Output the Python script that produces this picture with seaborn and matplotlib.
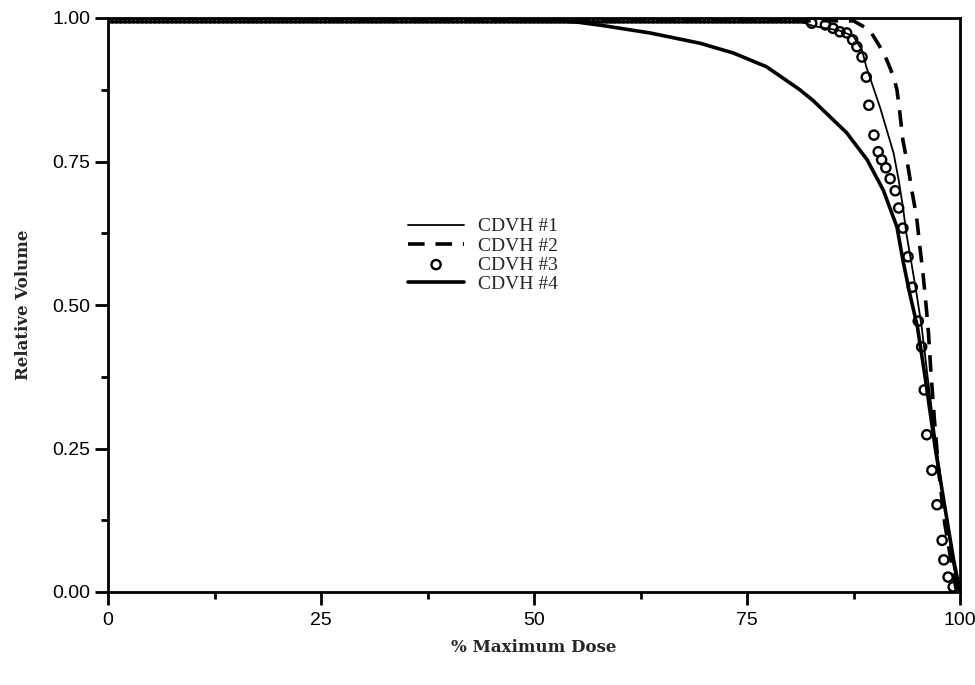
import matplotlib
matplotlib.use("Agg")
import matplotlib.pyplot as plt
import seaborn as sns
import pandas as pd
from matplotlib.ticker import MultipleLocator

# ---------------- data ----------------
x1 = [0, 80, 82.8, 85.9, 87.5, 88.5, 89.0, 89.8, 90.6, 91.4, 92.2, 92.8, 93.3, 93.7,
      94.3, 94.9, 95.5, 96.2, 97.0, 97.8, 98.6, 99.3, 100]
y1 = [1.0, 1.0, 0.986, 0.978, 0.968, 0.944, 0.915, 0.88, 0.845, 0.805, 0.765, 0.718,
      0.671, 0.625, 0.573, 0.52, 0.462, 0.375, 0.28, 0.19, 0.11, 0.04, 0.0]

x2 = [0, 87.5, 89.4, 90.6, 91.4, 92.2, 92.6, 92.9, 93.3, 93.9, 94.4, 94.9, 95.3, 95.7,
      96.1, 96.3, 96.6, 97.0, 97.5, 98.2, 99.0, 99.6]
y2 = [1.0, 0.995, 0.979, 0.95, 0.927, 0.898, 0.875, 0.84, 0.787, 0.741, 0.695, 0.654,
      0.60, 0.549, 0.486, 0.451, 0.38, 0.30, 0.21, 0.12, 0.05, 0.0]

# CDVH #3: dense plateau of points at 1.0, then the fall-off
x3_plateau = [0, 0.5, 1, 1.5, 2, 2.5, 3, 3.5, 4, 4.5, 5, 5.5, 6, 6.5, 7, 7.5, 8, 8.5,
              9, 9.5, 10, 10.5, 11, 11.5, 12, 12.5, 13, 13.5, 14, 14.5, 15, 15.5, 16,
              16.5, 17, 17.5, 18, 18.5, 19, 19.5, 20, 20.5, 21, 21.5, 22, 22.5, 23,
              23.5, 24, 24.5, 25, 25.5, 26, 26.5, 27, 27.5, 28, 28.5, 29, 29.5, 30,
              30.5, 31, 31.5, 32, 32.5, 33, 33.5, 34, 34.5, 35, 35.5, 36, 36.5, 37,
              37.5, 38, 38.5, 39, 39.5, 40, 40.5, 41, 41.5, 42, 42.5, 43, 43.5, 44,
              44.5, 45, 45.5, 46, 46.5, 47, 47.5, 48, 48.5, 49, 49.5, 50, 50.5, 51,
              51.5, 52, 52.5, 53, 53.5, 54, 54.5, 55, 55.5, 56, 56.5, 57, 57.5, 58,
              58.5, 59, 59.5, 60, 60.5, 61, 61.5, 62, 62.5, 63, 63.5, 64, 64.5, 65,
              65.5, 66, 66.5, 67, 67.5, 68, 68.5, 69, 69.5, 70, 70.5, 71, 71.5, 72,
              72.5, 73, 73.5, 74, 74.5, 75, 75.5, 76, 76.5, 77, 77.5, 78, 78.5, 79,
              79.5, 80, 80.5, 81, 81.5]
y3_plateau = [1.0 for _ in x3_plateau]
x3_fall = [82.6, 84.2, 85.1, 85.9, 86.7, 87.4, 87.9, 88.5, 89.0, 89.3, 89.9, 90.4,
           90.8, 91.3, 91.8, 92.4, 92.8, 93.3, 93.9, 94.4, 95.1, 95.5, 95.8, 96.1,
           96.7, 97.3, 97.9, 98.1, 98.6, 99.2]
y3_fall = [0.991, 0.988, 0.982, 0.976, 0.974, 0.962, 0.95, 0.932, 0.897, 0.848,
           0.796, 0.767, 0.753, 0.739, 0.72, 0.699, 0.669, 0.634, 0.584, 0.531,
           0.472, 0.427, 0.352, 0.274, 0.212, 0.152, 0.09, 0.056, 0.026, 0.009]
x3 = x3_plateau + x3_fall
y3 = y3_plateau + y3_fall

x4 = [0, 45, 50, 55, 58, 63.6, 69.5, 73.4, 77.3, 81.2, 82.7, 86.7, 89.1, 91.0, 92.6,
      93.3, 94.1, 95.0, 95.9, 97.1, 98.2, 99.2, 100]
y4 = [1.0, 1.0, 0.998, 0.993, 0.987, 0.974, 0.956, 0.939, 0.915, 0.875, 0.857, 0.80,
      0.753, 0.70, 0.636, 0.578, 0.52, 0.462, 0.375, 0.25, 0.15, 0.06, 0.0]

labels = ["CDVH #1", "CDVH #2", "CDVH #3", "CDVH #4"]
xticks = [0, 25, 50, 75, 100]
yticks = [0.00, 0.25, 0.50, 0.75, 1.00]

# ---------------- plot ----------------
sns.set_theme(style="ticks")
plt.rcParams["font.family"] = ["Liberation Sans", "DejaVu Sans"]

fig = plt.figure(figsize=(9.75, 6.85), dpi=100)
ax = fig.add_axes([108 / 975, 93 / 685, 852 / 975, 574 / 685])

df1 = pd.DataFrame({"x": x1, "y": y1})
df2 = pd.DataFrame({"x": x2, "y": y2})
df3 = pd.DataFrame({"x": x3, "y": y3})
df4 = pd.DataFrame({"x": x4, "y": y4})

sns.lineplot(data=df1, x="x", y="y", ax=ax, color="black", lw=1.3, sort=False,
             estimator=None, label=labels[0])
sns.lineplot(data=df2, x="x", y="y", ax=ax, color="black", lw=2.6, sort=False,
             estimator=None, label=labels[1], dashes=False)
ax.lines[-1].set_dashes([4.6, 3.0])
sns.lineplot(data=df4, x="x", y="y", ax=ax, color="black", lw=2.6, sort=False,
             estimator=None, label=labels[3])
sns.scatterplot(data=df3, x="x", y="y", ax=ax, marker="o", s=44, facecolor="none",
                edgecolor="black", linewidth=1.7, label=labels[2], zorder=3)

ax.set_xlim(0, 100)
ax.set_ylim(0, 1)
ax.set_xticks(xticks)
ax.set_xticklabels([str(t) for t in xticks])
ax.set_yticks(yticks)
ax.set_yticklabels([f"{t:.2f}" for t in yticks])
ax.xaxis.set_minor_locator(MultipleLocator(12.5))
ax.yaxis.set_minor_locator(MultipleLocator(0.125))
ax.tick_params(axis="both", which="major", direction="out", length=9.5, width=2,
               labelsize=14, color="black", labelcolor="black", pad=3)
ax.tick_params(axis="both", which="minor", direction="out", length=5, width=2,
               color="black")
ax.tick_params(axis="x", which="major", pad=5)
for sp in ax.spines.values():
    sp.set_linewidth(2)
    sp.set_color("black")

lab_font = dict(family="DejaVu Serif", weight="bold", size=12)
ax.set_xlabel("% Maximum Dose", fontdict=lab_font, labelpad=7)
ax.set_ylabel("Relative Volume", fontdict=lab_font, labelpad=15)

h, l = ax.get_legend_handles_labels()
order = [l.index(name) for name in labels]
leg = ax.legend([h[i] for i in order], [l[i] for i in order], loc="upper left",
                bbox_to_anchor=(0.352, 0.652), frameon=False, borderpad=0,
                borderaxespad=0, handlelength=2.9, handletextpad=0.7,
                labelspacing=0.08,
                prop={"family": "Liberation Serif", "size": 14})

fig.savefig("out.png", dpi=100, facecolor="white")
